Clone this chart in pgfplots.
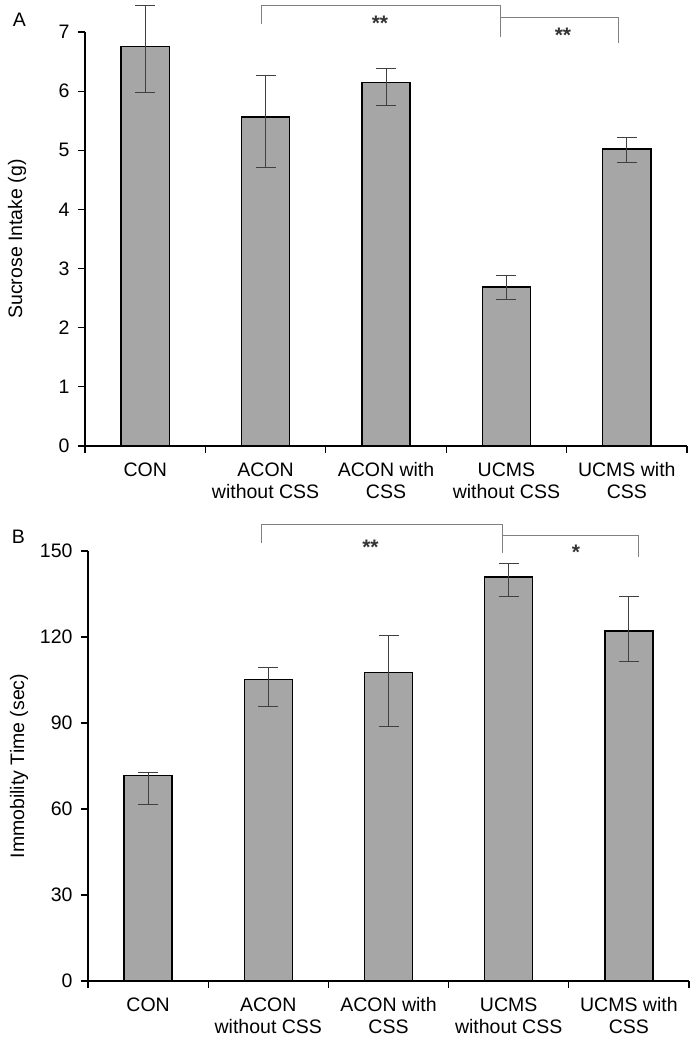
\documentclass[border=0pt]{standalone}
\usepackage{fontspec}
\setmainfont{Liberation Sans}
\usepackage{pgfplots}
\pgfplotsset{compat=1.18}
\definecolor{barfill}{RGB}{166,166,166}
\definecolor{errc}{RGB}{64,64,64}
\definecolor{brk}{RGB}{128,128,128}
\newcommand{\lf}{\fontsize{19.5}{22}\selectfont}
\newcommand{\starfont}{\fontsize{21}{21}\selectfont\bfseries}
\pgfplotsset{
 mystyle/.style={
  scale only axis,
  xmin=-0.5, xmax=4.5, ymin=0,
  axis lines=left, axis line style={-, line width=1.3pt},
  xtick={-0.5,0.5,...,4.5}, xticklabels={},
  extra x ticks={0,1,2,3,4},
  extra x tick labels={CON,{ACON\\without CSS},{ACON with\\CSS},{UCMS\\without CSS},{UCMS with\\CSS}},
  extra x tick style={major tick length=0pt, tick label style={align=center, font=\lf, yshift=-13pt}},
  tick align=outside,
  major tick length=7pt,
  tick style={line width=1.2pt, black},
  y tick label style={font=\lf, xshift=-5pt},
  /pgf/number format/assume math mode=true,
  ylabel style={font=\lf, anchor=center},
  clip=false,
 },
 mybar/.style={ybar, bar width=0.4, fill=barfill, draw=black, line width=1.4pt,
  error bars/.cd, y dir=both, y explicit,
  error bar style={errc, line width=1pt},
  error mark options={rotate=90, mark size=10pt, errc, line width=1pt}},
}
\begin{document}
\begin{tikzpicture}
\useasboundingbox (0,0) rectangle (696pt,-1043pt);
\node[font=\lf] at (19.5pt,-19.5pt) {A};
\node[font=\lf] at (18.5pt,-536.5pt) {B};
\begin{axis}[mystyle, at={(85pt,-446pt)}, anchor=south west,
  width=602pt, height=414pt, ymax=7, ytick={0,1,...,7},
  ylabel={Sucrose Intake (g)},
  ylabel style={at={(axis description cs:-0.113,0.5)}}]
\addplot[mybar] coordinates {
 (0,6.76) += (0,0.68) -= (0,0.78)
 (1,5.56) += (0,0.71) -= (0,0.85)
 (2,6.15) += (0,0.23) -= (0,0.39)
 (3,2.69) += (0,0.19) -= (0,0.21)
 (4,5.02) += (0,0.20) -= (0,0.23)
};
\addplot[brk, line width=1pt] coordinates {(0.968,7.13) (0.968,7.45) (2.947,7.45) (2.947,6.91)};
\addplot[brk, line width=1pt] coordinates {(2.947,7.24) (3.935,7.24) (3.935,6.81)};
\node[font=\starfont, text=black!80, yshift=-4pt] at (axis cs:1.95,7.22) {**};
\node[font=\starfont, text=black!80, yshift=-4pt] at (axis cs:3.47,7.01) {**};
\end{axis}
\begin{axis}[mystyle, at={(88pt,-981pt)}, anchor=south west,
  width=601pt, height=430pt, ymax=150, ytick={0,30,...,150},
  ylabel={Immobility Time (sec)},
  ylabel style={at={(axis description cs:-0.1145,0.5)}}]
\addplot[mybar] coordinates {
 (0,71.7) += (0,1.2) -= (0,10.1)
 (1,105.2) += (0,4.0) -= (0,9.6)
 (2,107.7) += (0,12.7) -= (0,19.0)
 (3,140.9) += (0,4.7) -= (0,6.7)
 (4,122.1) += (0,12.2) -= (0,10.6)
};
\addplot[brk, line width=1pt] coordinates {(0.945,152.7) (0.945,159.3) (2.95,159.3) (2.95,149.2)};
\addplot[brk, line width=1pt] coordinates {(2.95,155.3) (4.08,155.3) (4.08,148.0)};
\node[font=\starfont, text=black!80, yshift=-4pt] at (axis cs:1.85,152.7) {**};
\node[font=\starfont, text=black!80, yshift=-4pt] at (axis cs:3.56,151.1) {*};
\end{axis}
\end{tikzpicture}
\end{document}
